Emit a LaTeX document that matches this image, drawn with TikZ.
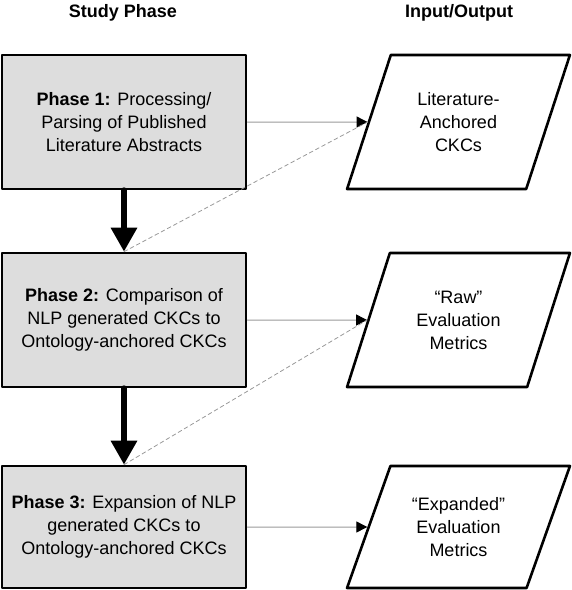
\documentclass[tikz,border=0pt]{standalone}
\usepackage{fontspec}
\setmainfont{Liberation Sans}
\usetikzlibrary{arrows.meta,shapes.geometric}

\begin{document}
\begin{tikzpicture}[line cap=round,line join=round,x=1pt,y=-1pt,
  title/.style={font=\fontsize{18}{23}\selectfont\bfseries,anchor=base},
  phase/.style={draw,line width=2.6pt,fill=gray!27,minimum width=244pt,inner sep=0pt,align=center,font=\fontsize{18}{23}\selectfont},
  iobox/.style={draw,line width=2.6pt,trapezium,trapezium stretches=true,minimum width=223pt,inner sep=0pt,align=center,font=\fontsize{18}{23}\selectfont},
  flow/.style={line width=6pt,-{Triangle[length=24pt,width=25pt]}},
  feed/.style={draw=gray!80,line width=1pt,-{Triangle[length=11pt,width=11pt,color=black,fill=black]}},
  link/.style={draw=gray!80,line width=0.8pt,dash pattern=on 4pt off 3pt}]
\useasboundingbox (0,0) rectangle (572,590);
\node[title] (tphase) at (123,17) {Study Phase};
\node[title] (tio) at (459,17) {Input/Output};
\node[phase,minimum height=134pt] (p1) at (124,122) {\textbf{Phase 1:} Processing/\\Parsing of Published\\Literature Abstracts};
\node[phase,minimum height=134pt] (p2) at (124,320) {\textbf{Phase 2:} Comparison of\\NLP generated CKCs to\\Ontology-anchored CKCs};
\node[phase,minimum height=122pt] (p3) at (124,527) {\textbf{Phase 3:} Expansion of NLP\\generated CKCs to\\Ontology-anchored CKCs};
\node[iobox,trapezium left angle=65.9,trapezium right angle=114.1,minimum height=134pt] (io1) at (458.5,122) {Literature-\\Anchored\\CKCs};
\node[iobox,trapezium left angle=65.9,trapezium right angle=114.1,minimum height=134pt] (io2) at (458.5,320) {“Raw”\\Evaluation\\Metrics};
\node[iobox,trapezium left angle=63.4,trapezium right angle=116.6,minimum height=122pt] (io3) at (458.5,527) {“Expanded”\\Evaluation\\Metrics};
\draw[flow] (p1.south) -- (p2.north);
\draw[flow] (p2.south) -- (p3.north);
\draw[feed] (p1.east) -- (io1.west);
\draw[feed] (p2.east) -- (io2.west);
\draw[feed] (p3.east) -- (io3.west);
\draw[link] (p2.north) -- (io1.west);
\draw[link] (p3.north) -- (io2.west);
\end{tikzpicture}
\end{document}
